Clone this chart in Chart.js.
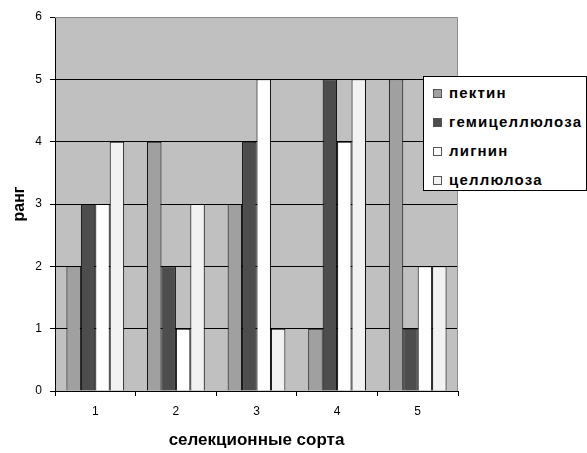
<!DOCTYPE html>
<html>
<head>
<meta charset="utf-8">
<script src="https://cdn.jsdelivr.net/npm/chart.js@4/dist/chart.umd.min.js"></script>
<style>
  html, body { margin: 0; padding: 0; background: #fff; }
  #wrap { position: relative; width: 587px; height: 453px; }
  #legend {
    position: absolute; left: 423px; top: 76px; width: 162px; height: 113px;
    border: 1px solid #000; background: #fff; box-sizing: content-box;
    font-family: "Liberation Sans", Arial, sans-serif; font-weight: bold;
    font-size: 15px; letter-spacing: 1.2px; color: #000;
  }
  .item { position: absolute; left: 8px; height: 20px; line-height: 20px; white-space: nowrap; }
  .sw { position: absolute; left: 1px; top: 6px; width: 7px; height: 7px; border: 1px solid #555; }
  .lbl { position: absolute; left: 17px; top: 0; }
</style>
</head>
<body>
<div id="wrap">
  <canvas id="c" width="587" height="453"></canvas>
  <div id="legend"></div>
</div>
<script>
// Varieties along the x axis
const categories = ['1', '2', '3', '4', '5'];

// Rank of each component per variety
const pectin        = [2, 4, 3, 1, 5];
const hemicellulose = [3, 2, 4, 5, 1];
const lignin        = [3, 1, 5, 4, 2];
const cellulose     = [4, 3, 1, 5, 2];

const seriesNames  = ['пектин', 'гемицеллюлоза', 'лигнин', 'целлюлоза'];
const seriesValues = [pectin, hemicellulose, lignin, cellulose];
const seriesColors = ['#a0a0a0', '#4d4d4d', '#ffffff', '#f2f2f2'];

const yTicks = [0, 1, 2, 3, 4, 5, 6];

const FONT = '"Liberation Sans", Arial, sans-serif';

// Grey plot background with a thin grey frame on top and right
const plotFrame = {
  id: 'plotFrame',
  beforeDraw(chart) {
    const { ctx, chartArea: a } = chart;
    ctx.save();
    ctx.fillStyle = '#c0c0c0';
    ctx.fillRect(a.left, a.top, a.right - a.left, a.bottom - a.top);
    ctx.restore();
  },
  afterDatasetsDraw(chart) {
    const { ctx, chartArea: a } = chart;
    ctx.save();
    ctx.strokeStyle = '#8c8c8c';
    ctx.lineWidth = 1;
    ctx.beginPath();
    ctx.moveTo(a.left, a.top + 0.5);
    ctx.lineTo(a.right - 0.5, a.top + 0.5);
    ctx.lineTo(a.right - 0.5, a.bottom);
    ctx.stroke();
    ctx.restore();
  }
};

const datasets = seriesNames.map((name, i) => ({
  label: name,
  data: seriesValues[i],
  backgroundColor: seriesColors[i],
  borderColor: '#000',
  borderWidth: 1,
  categoryPercentage: 0.716,
  barPercentage: 1.0
}));

new Chart(document.getElementById('c'), {
  type: 'bar',
  data: { labels: categories, datasets },
  plugins: [plotFrame],
  options: {
    responsive: false,
    animation: false,
    devicePixelRatio: 1,
    layout: { padding: { top: 17, right: 129, left: 0, bottom: 0 } },
    plugins: { legend: { display: false }, tooltip: { enabled: false } },
    scales: {
      x: {
        afterFit(scale) { scale.height = 62; },
        grid: {
          offset: true,
          drawOnChartArea: false,
          drawTicks: true,
          tickLength: 5,
          tickColor: '#000'
        },
        border: { display: true, color: '#000', width: 1 },
        ticks: { color: '#000', font: { family: FONT, size: 12 }, padding: 8 },
        title: {
          display: true,
          text: 'селекционные сорта',
          color: '#000',
          font: { family: FONT, size: 17, weight: 'bold' },
          padding: { top: 0, bottom: 2 }
        }
      },
      y: {
        min: 0,
        max: 6,
        afterFit(scale) { scale.width = 55; },
        afterBuildTicks(scale) { scale.ticks = yTicks.map(v => ({ value: v })); },
        grid: {
          color: ctx => (ctx.tick && (ctx.tick.value === 0 || ctx.tick.value === 6)) ? 'rgba(0,0,0,0)' : '#000',
          tickColor: '#000',
          tickLength: 5,
          drawTicks: true
        },
        border: { display: true, color: '#000', width: 1 },
        ticks: { color: '#000', font: { family: FONT, size: 12 }, padding: 8 },
        title: {
          display: true,
          text: 'ранг',
          color: '#000',
          font: { family: FONT, size: 16, weight: 'bold' },
          padding: { top: 10, bottom: 0 }
        }
      }
    }
  }
});

// Legend box listing the four components
const legend = document.getElementById('legend');
seriesNames.forEach((name, i) => {
  const item = document.createElement('div');
  item.className = 'item';
  item.style.top = (6 + i * 29) + 'px';
  const sw = document.createElement('span');
  sw.className = 'sw';
  sw.style.background = seriesColors[i];
  const lbl = document.createElement('span');
  lbl.className = 'lbl';
  lbl.textContent = name;
  item.appendChild(sw);
  item.appendChild(lbl);
  legend.appendChild(item);
});
</script>
</body>
</html>
